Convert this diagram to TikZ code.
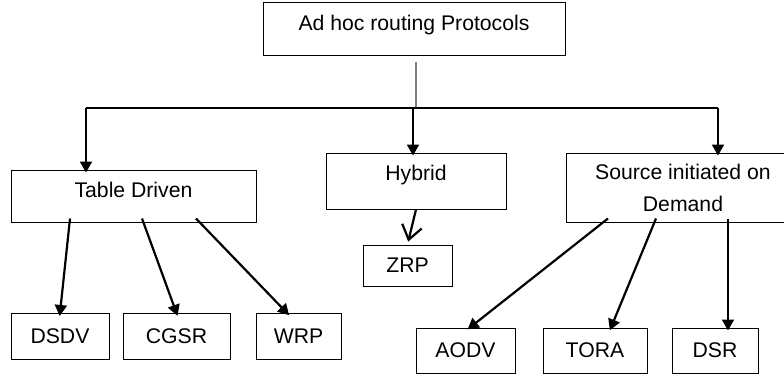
\documentclass[tikz,border=0pt]{standalone}
\usepackage{fontspec}
\setmainfont{Liberation Sans}
\usetikzlibrary{arrows.meta}
\tikzstyle{protobox}=[draw,rectangle,line width=0.5pt,inner sep=0pt,align=center,font=\fontsize{10.6}{16}\selectfont]
\tikzstyle{leafbox}=[protobox,minimum height=23pt]
\tikzstyle{branchline}=[line width=1.1pt,-{Triangle[width=6pt,length=5.5pt]},shorten >=-1.5pt]
\tikzstyle{barbline}=[line width=1.1pt,-{Straight Barb[width=10pt,length=7pt]},shorten >=1.5pt]
\tikzstyle{trunkline}=[line width=0.7pt,gray]
\tikzstyle{railline}=[line width=0.6pt]

\begin{document}
\begin{tikzpicture}[x=0.5pt,y=-0.5pt]
\useasboundingbox (0,0) rectangle (784,375);
\node[protobox,minimum width=151pt,minimum height=26pt,text depth=6pt] (top) at (414,29) {Ad hoc routing Protocols};
\node[protobox,minimum width=122.5pt,minimum height=26pt,text depth=6pt] (td) at (133.5,196) {Table Driven};
\node[protobox,minimum width=90pt,minimum height=28pt,text depth=8pt] (hyb) at (416,181) {Hybrid};
\node[protobox,minimum width=117pt,minimum height=34.5pt] (src) at (683,187.5) {Source initiated on\\Demand};
\node[protobox,minimum width=44.5pt,minimum height=20.5pt] (ZRP) at (407.5,265.5) {ZRP};
\foreach \place/\name/\boxw in {{(60,336.5)/DSDV/49pt}, {(176.5,336.5)/CGSR/53.5pt}, {(298.5,336.5)/WRP/42.5pt}}
    \node[leafbox,minimum width=\boxw] (\name) at \place {\name};
\foreach \place/\name/\boxw in {{(465.5,350.5)/AODV/49.5pt}, {(595,350.5)/TORA/52pt}, {(715,350.5)/DSR/43pt}}
    \node[leafbox,minimum width=\boxw,minimum height=22.5pt] (\name) at \place {\name};

\coordinate (bar) at (416,108);
\coordinate (barL) at (86,108);
\coordinate (barR) at (718,108);
\draw[trunkline] ([shift={(1pt,-3pt)}]top.south) -- (bar);
\draw[railline] (barL) -- (barR);
\draw[branchline] (barL) -- (barL |- td.north);
\draw[branchline] ([xshift=-1.5pt]hyb.north |- bar) -- ([xshift=-1.5pt]hyb.north);
\draw[branchline] (barR) -- (barR |- src.north);

\foreach \source/\sx/\dest/\dx in {td/-31.75/DSDV/0, td/4.25/CGSR/0, td/31.25/WRP/-5.75,
    src/-37.5/AODV/2.25, src/-13.5/TORA/8, src/22.5/DSR/6.5}
  \draw[branchline] ([shift={(\sx pt,2pt)}]\source.south) -- ([xshift=\dx pt]\dest.north);
\draw[barbline] (hyb.south) -- (ZRP.north);
\end{tikzpicture}
\end{document}
